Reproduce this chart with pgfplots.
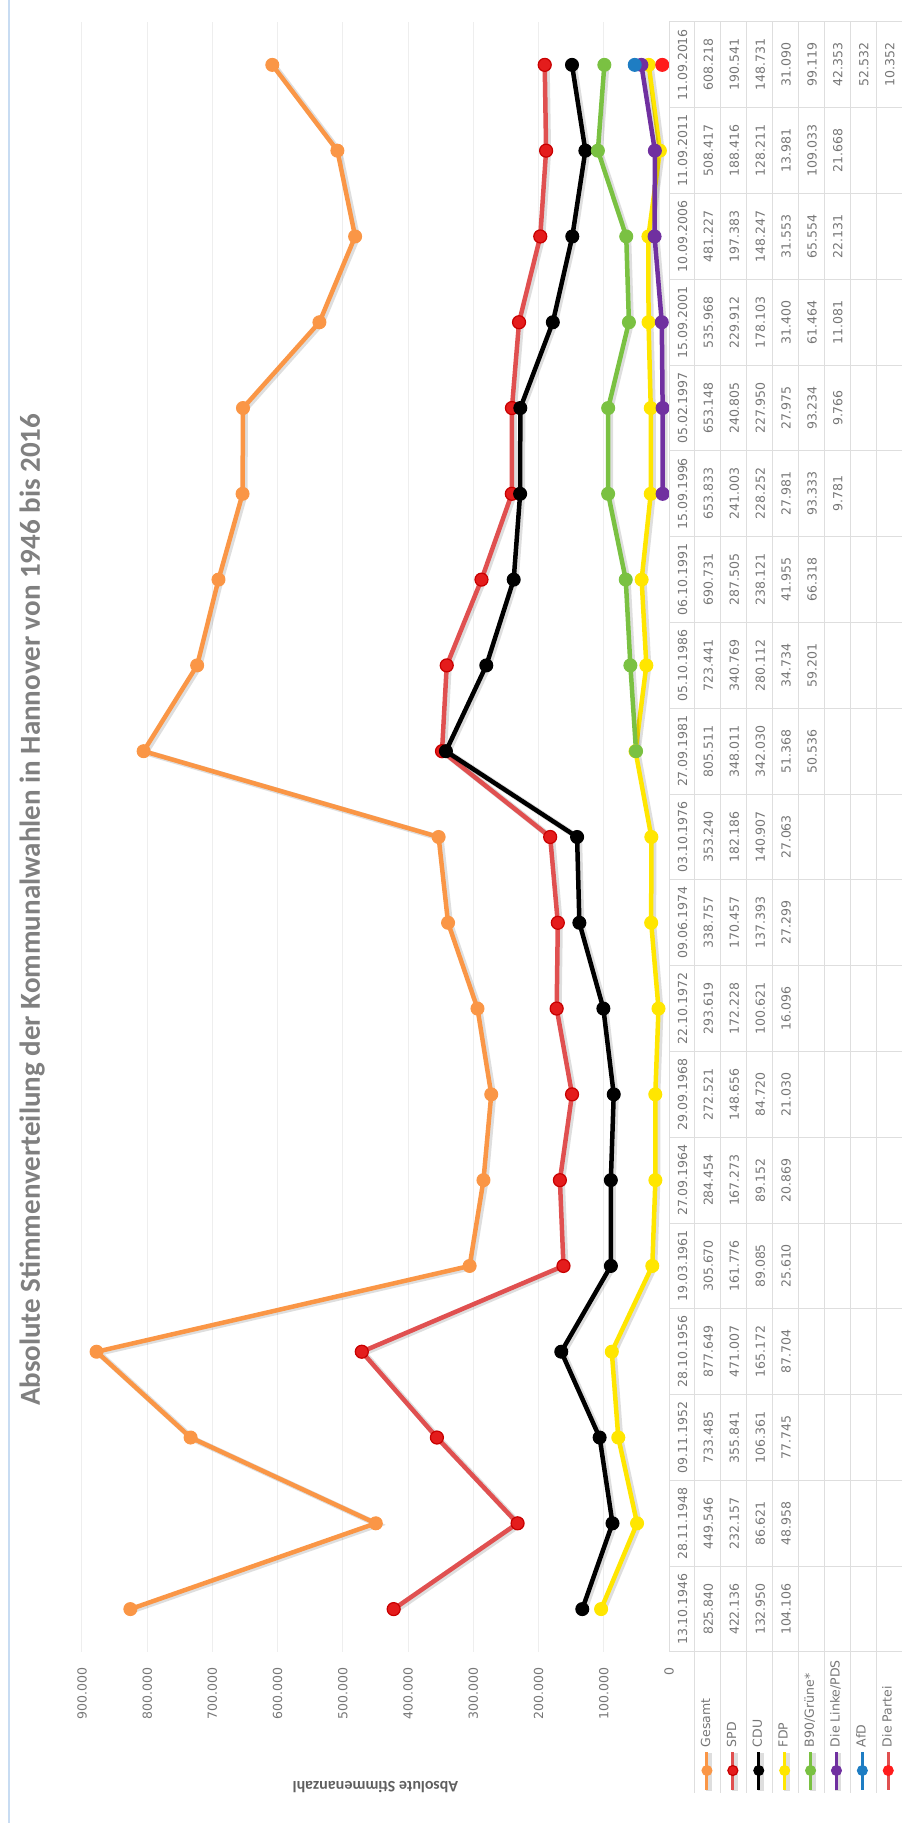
\documentclass[border=0pt]{standalone}
\usepackage{graphicx}
\usepackage{fontspec}
\setmainfont{DejaVu Sans}
\newfontfamily\titlefont{Carlito}
\usepackage{pgfplots}
\pgfplotsset{compat=1.18}

\definecolor{cGesamt}{RGB}{250,150,70}
\definecolor{cSPDline}{RGB}{224,80,80}
\definecolor{cSPDmark}{RGB}{228,28,28}
\definecolor{cSPDedge}{RGB}{200,0,0}
\definecolor{cFDP}{RGB}{255,230,0}
\definecolor{cGruen}{RGB}{122,193,66}
\definecolor{cLinke}{RGB}{112,48,160}
\definecolor{cAfD}{RGB}{30,125,195}
\definecolor{cPartei}{RGB}{255,28,28}
\definecolor{txt}{RGB}{118,118,118}
\definecolor{titlegray}{RGB}{128,128,128}
\definecolor{labgray}{RGB}{95,95,95}
\definecolor{gridc}{RGB}{238,238,238}
\definecolor{tabc}{RGB}{222,222,222}
\definecolor{framec}{RGB}{200,220,242}

\begin{document}
\rotatebox{90}{%
\begin{tikzpicture}
\path[use as bounding box] (0,0) rectangle (911.5pt,450.5pt);
\draw[framec, line width=0.6pt] (0,446pt) -- (911.5pt,446pt);
% data table grid
\foreach \k in {1,...,8}
  \draw[tabc, line width=0.5pt] (15pt,116pt-\k*12.95pt) -- (900.5pt,116pt-\k*12.95pt);
\foreach \k in {0,...,19}
  \draw[tabc, line width=0.5pt] (85.5pt+\k*42.895pt,116pt) -- (85.5pt+\k*42.895pt,-1pt);

\begin{axis}[
  at={(85.5pt,116pt)}, anchor=south west,
  width=815pt, height=293.5pt, scale only axis,
  xmin=-0.5, xmax=18.5, ymin=0, ymax=900000,
  clip=false,
  axis line style={draw=none},
  major tick length=0pt,
  ymajorgrids, grid style={gridc, line width=0.5pt},
  ytick={0,100000,...,900000},
  scaled y ticks=false,
  /pgf/number format/fixed,
  /pgf/number format/precision=0,
  /pgf/number format/1000 sep={.},
  /pgf/number format/assume math mode=true,
  yticklabel style={font=\fontsize{6.25pt}{7pt}\selectfont, text=txt, inner sep=0pt, xshift=-7.5pt},
  xtick={0,...,18},
  xticklabels={
    {13.10.1946\\825.840\\422.136\\132.950\\104.106},
    {28.11.1948\\449.546\\232.157\\86.621\\48.958},
    {09.11.1952\\733.485\\355.841\\106.361\\77.745},
    {28.10.1956\\877.649\\471.007\\165.172\\87.704},
    {19.03.1961\\305.670\\161.776\\89.085\\25.610},
    {27.09.1964\\284.454\\167.273\\89.152\\20.869},
    {29.09.1968\\272.521\\148.656\\84.720\\21.030},
    {22.10.1972\\293.619\\172.228\\100.621\\16.096},
    {09.06.1974\\338.757\\170.457\\137.393\\27.299},
    {03.10.1976\\353.240\\182.186\\140.907\\27.063},
    {27.09.1981\\805.511\\348.011\\342.030\\51.368\\50.536},
    {05.10.1986\\723.441\\340.769\\280.112\\34.734\\59.201},
    {06.10.1991\\690.731\\287.505\\238.121\\41.955\\66.318},
    {15.09.1996\\653.833\\241.003\\228.252\\27.981\\93.333\\9.781},
    {05.02.1997\\653.148\\240.805\\227.950\\27.975\\93.234\\9.766},
    {15.09.2001\\535.968\\229.912\\178.103\\31.400\\61.464\\11.081},
    {10.09.2006\\481.227\\197.383\\148.247\\31.553\\65.554\\22.131},
    {11.09.2011\\508.417\\188.416\\128.211\\13.981\\109.033\\21.668},
    {11.09.2016\\608.218\\190.541\\148.731\\31.090\\99.119\\42.353\\52.532\\10.352}},
  xticklabel style={font=\fontsize{6.25pt}{12.95pt}\selectfont, text=txt, align=center, inner sep=0pt, anchor=north, yshift=-4.2pt},
  title={Absolute Stimmenverteilung der Kommunalwahlen in Hannover von 1946 bis 2016},
  title style={at={(rel axis cs:0.4552,1.0511)}, anchor=base, inner sep=0pt, yshift=0pt,
    font=\titlefont\bfseries\fontsize{14.5pt}{16pt}\selectfont, text=titlegray},
  ylabel={Absolute Stimmenanzahl},
  ylabel style={at={(rel axis cs:-0.0828,0.5)}, anchor=center, inner sep=0pt,
    font=\titlefont\bfseries\fontsize{8pt}{9pt}\selectfont, text=labgray},
  legend cell align=left,
  legend style={at={(rel axis cs:-0.0853,-0.0426)}, anchor=north west,
    draw=none, fill=none, inner sep=0pt, outer sep=0pt, row sep=0pt, column sep=1.5pt,
    nodes={inner sep=0pt, minimum height=12.95pt, text=txt,
      font=\fontsize{6.25pt}{7pt}\selectfont}},
  legend image code/.code={
    \draw[mark repeat=2, mark phase=2, #1, line width=1.5pt, mark size=2.5pt]
      plot coordinates {(0pt,0pt) (9.5pt,0pt) (19pt,0pt)};},
  every axis plot/.append style={line width=2.25pt, mark=*, mark size=3.25pt},
  shadowed/.style={preaction={draw=black, opacity=0.13, line width=3pt,
    transform canvas={shift={(-0.6pt,-1pt)}}}},
]
% Gesamt
\addplot[shadowed, color=cGesamt, mark options={solid, fill=cGesamt, draw=cGesamt, line width=0.5pt}] coordinates {
  (0,825840) (1,449546) (2,733485) (3,877649) (4,305670) (5,284454) (6,272521)
  (7,293619) (8,338757) (9,353240) (10,805511) (11,723441) (12,690731) (13,653833)
  (14,653148) (15,535968) (16,481227) (17,508417) (18,608218)};
% SPD
\addplot[shadowed, color=cSPDline, mark options={solid, fill=cSPDmark, draw=cSPDedge, line width=0.6pt}] coordinates {
  (0,422136) (1,232157) (2,355841) (3,471007) (4,161776) (5,167273) (6,148656)
  (7,172228) (8,170457) (9,182186) (10,348011) (11,340769) (12,287505) (13,241003)
  (14,240805) (15,229912) (16,197383) (17,188416) (18,190541)};
% CDU
\addplot[shadowed, color=black, mark options={solid, fill=black, draw=black, line width=0.5pt}] coordinates {
  (0,132950) (1,86621) (2,106361) (3,165172) (4,89085) (5,89152) (6,84720)
  (7,100621) (8,137393) (9,140907) (10,342030) (11,280112) (12,238121) (13,228252)
  (14,227950) (15,178103) (16,148247) (17,128211) (18,148731)};
% FDP
\addplot[shadowed, color=cFDP, mark options={solid, fill=cFDP, draw=cFDP, line width=0.5pt}] coordinates {
  (0,104106) (1,48958) (2,77745) (3,87704) (4,25610) (5,20869) (6,21030)
  (7,16096) (8,27299) (9,27063) (10,51368) (11,34734) (12,41955) (13,27981)
  (14,27975) (15,31400) (16,31553) (17,13981) (18,31090)};
% B90/Gruene
\addplot[shadowed, color=cGruen, mark options={solid, fill=cGruen, draw=cGruen, line width=0.5pt}] coordinates {
  (10,50536) (11,59201) (12,66318) (13,93333) (14,93234) (15,61464) (16,65554)
  (17,109033) (18,99119)};
% Die Linke/PDS
\addplot[shadowed, color=cLinke, mark options={solid, fill=cLinke, draw=cLinke, line width=0.5pt}] coordinates {
  (13,9781) (14,9766) (15,11081) (16,22131) (17,21668) (18,42353)};
% AfD
\addplot[color=cAfD, mark options={solid, fill=cAfD, draw=cAfD, line width=0.5pt}] coordinates {
  (18,52532)};
% Die Partei
\addplot[color=cSPDline, mark options={solid, fill=cPartei, draw=cPartei, line width=0.5pt}] coordinates {
  (18,10352)};
\legend{Gesamt,SPD,CDU,FDP,B90/Grüne*,Die Linke/PDS,AfD,Die Partei}
\end{axis}
\draw[tabc, line width=0.5pt] (85.5pt,116pt) -- (900.5pt,116pt);
\end{tikzpicture}}
\end{document}
